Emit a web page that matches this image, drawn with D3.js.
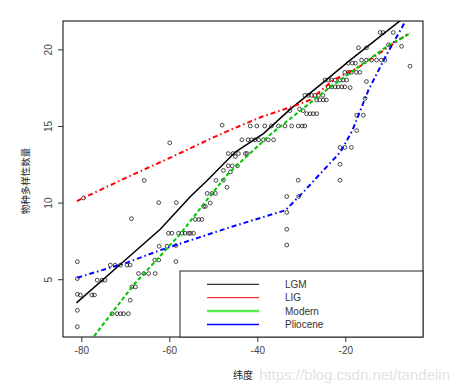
<!DOCTYPE html>
<html lang="zh">
<head>
<meta charset="utf-8">
<script src="https://cdn.jsdelivr.net/npm/d3@7/dist/d3.min.js"></script>
<style>
  body { margin: 0; background: #fff; }
  text { font-family: "Liberation Sans", Arial, sans-serif; }
</style>
</head>
<body>
<svg width="458" height="391"></svg>
<script>
// scatter points (latitude, species count)
var pointX = [
  -12.1,-11.4,-9.1, -17.0,-15.2,-10.2,-7.2, -5.3,
  -19.3,-18.4,-17.7, -16.3,-15.2,-14.0,-12.9,-11.8,-11.0,
  -20.1,-19.3,-18.6,-17.5,-16.7, -15.2,
  -24.6,-23.9,-23.1,-22.3,-21.2,-20.5,-19.7,
  -23.9,-23.1,-22.3,-21.6,-20.8,-20.1,-18.9,
  -29.2,-28.4,-27.7,-26.9,-26.1,-25.1,
  -26.5,-25.8,-25.0,-24.3, -15.5,
  -32.6,-30.4,-29.6, -28.8,-28.0,-27.3,-26.5, -17.4,-15.9,
  -41.6,-40.1,-38.3,-36.8,-35.2,-33.7,-32.2,-30.7,-29.8,-29.2,
  -48.0, -17.4,
  -43.5,-42.1,-41.3,-40.5,-39.7,-38.6,-37.5,-36.3,
  -46.6,-45.5,-44.3,-42.7,-42.3, -21.2,-20.1,-18.6,
  -46.6,-45.7,-44.5, -45.0, -21.2, -59.9, -47.7, -46.1,
  -30.7,-21.2, -49.4,-47.7, -65.7,
  -33.3,-30.6, -46.9, -51.4,-50.3,-49.5,
  -79.5, -62.4,-58.4, -52.2,-51.8,-50.7, -33.3, -68.6,
  -54.1,-53.3,-52.6,
  -60.2,-59.4,-57.9,-57.1,-56.4,-55.6,-55.2,-54.5,
  -33.3, -33.3, -62.3,-60.5,-58.5,
  -63.3,-62.4,-58.5, -80.9,
  -73.4,-72.3,-71.1,-69.6,-68.9,
  -67.0,-65.8,-64.7,-63.2, -80.9,
  -76.4,-75.3,-74.6, -68.5,-67.7,
  -80.9, -80.2,-77.6,-77.0, -68.9, -80.9,
  -73.0,-71.9,-71.1,-70.4,-69.3, -80.9
];
var pointY = [
  21.1,21.1,21.1, 20.1,20.1,20.3,20.2, 18.9,
  19.1,19.1,19.1, 19.3,19.3,19.3,19.3,19.3,19.3,
  18.5,18.5,18.5,18.5,18.5, 17.9,
  18.0,18.0,18.0,18.0,18.0,18.0,18.0,
  17.55,17.55,17.55,17.55,17.55,17.55,17.5,
  17.0,17.0,17.0,17.0,17.0,17.0,
  16.7,16.7,16.7,16.7, 16.8,
  16.0,16.1,16.0, 15.8,15.8,15.8,15.8, 15.7,15.7,
  15.0,15.0,15.0,15.0,15.0,15.0,15.0,15.0,15.0,15.0,
  15.05, 14.7,
  14.1,14.1,14.1,14.1,14.1,14.1,14.1,14.1,
  13.2,13.2,13.2,13.2,13.2, 13.6,13.6,13.6,
  12.4,12.4,12.4, 13.0, 12.5, 13.9, 12.1, 12.0,
  11.46,11.46, 11.45,11.46, 11.45,
  10.4,10.4, 11.0, 10.6,10.6,10.6,
  10.3, 10.0,10.0, 9.75,9.75,9.97, 9.36, 8.95,
  8.9,8.9,8.9,
  8.0,8.0,8.0,8.0,8.0,8.0,8.0,8.0,
  8.26, 7.23, 7.15,7.15,7.2,
  6.25,6.25,6.16, 6.14,
  5.92,5.92,5.92,5.92,5.92,
  5.37,5.37,5.37,5.37, 5.04,
  4.94,4.94,4.94, 4.5,4.5,
  4.02, 3.97,3.97,3.97, 3.63, 2.97,
  2.75,2.75,2.75,2.75,2.75, 1.9
];

// fitted curves
var lgmX = [-81.1,-71.1,-62.0,-55.2,-51.4,-45.0,-38.6,-32.5,-25.0,-18.9,-7.4,-5.0];
var lgmY = [3.46,5.98,8.28,10.4,11.44,13.3,14.5,16.1,17.85,19.3,21.9,22.4];
var ligX = [-81.0,-70.0,-60.0,-50.0,-46.5,-39.0,-32.2,-28.0,-22.7,-16.6,-5.3];
var ligY = [10.1,11.6,12.9,14.25,14.7,15.6,16.25,16.7,18.0,18.9,21.1];
var modernX = [-78.0,-68.2,-57.5,-51.1,-46.6,-36.8,-24.5,-10.2,-5.2];
var modernY = [0.95,4.6,7.95,10.3,11.9,14.5,17.3,20.26,21.05];
var plioX = [-80.9,-69.5,-62.0,-46.1,-33.6,-29.5,-25.0,-21.1,-18.4,-14.8,-10.9,-6.4,-5.5];
var plioY = [5.1,6.1,6.9,8.4,9.5,10.7,12.1,13.3,14.7,17.3,19.5,21.8,22.4];

var xTicks = [-80,-60,-40,-20];
var yTicks = [5,10,15,20];
var legendNames = ["LGM","LIG","Modern","Pliocene"];

var svg = d3.select("svg");
var plotLeft = 63, plotRight = 423, plotTop = 21, plotBottom = 337;

var x = d3.scaleLinear().domain([-84.16,-2.34]).range([plotLeft,plotRight]);
var y = d3.scaleLinear().domain([1.23,21.85]).range([plotBottom,plotTop]);

svg.append("clipPath").attr("id","plotclip")
  .append("rect").attr("x",plotLeft).attr("y",plotTop)
  .attr("width",plotRight-plotLeft).attr("height",plotBottom-plotTop);

// axes
var xAxis = svg.append("g")
  .attr("transform","translate(0,"+plotBottom+")")
  .call(d3.axisBottom(x).tickValues(xTicks).tickSize(5).tickPadding(5)
    .tickFormat(function(d){ return String(d); }));
xAxis.select(".domain").remove();
xAxis.selectAll("text").attr("font-size","10px").attr("fill","#444")
  .style("font-family","'Liberation Sans', Arial, sans-serif");
xAxis.selectAll("line").attr("stroke","#333");

var yAxis = svg.append("g")
  .attr("transform","translate("+plotLeft+",0)")
  .call(d3.axisLeft(y).tickValues(yTicks).tickSize(5)
    .tickFormat(function(d){ return String(d); }));
yAxis.select(".domain").remove();
yAxis.selectAll("line").attr("stroke","#333");
yAxis.selectAll("text")
  .attr("font-size","10px").attr("fill","#444")
  .style("font-family","'Liberation Sans', Arial, sans-serif")
  .attr("text-anchor","middle")
  .attr("x",0).attr("y",0).attr("dy",0)
  .attr("transform","translate(-11,0) rotate(-90)");

// points
svg.append("g").selectAll("circle")
  .data(pointX.map(function(d,i){ return [d,pointY[i]]; }))
  .enter().append("circle")
  .attr("cx",function(d){ return x(d[0]); })
  .attr("cy",function(d){ return y(d[1]); })
  .attr("r",1.9)
  .attr("fill","none")
  .attr("stroke","#000")
  .attr("stroke-width",0.7);

// curves
var line = d3.line().x(function(d){ return x(d[0]); }).y(function(d){ return y(d[1]); });
function zip(a,b){ return a.map(function(d,i){ return [d,b[i]]; }); }

var g = svg.append("g").attr("clip-path","url(#plotclip)");
g.append("path").attr("d",line(zip(lgmX,lgmY)))
  .attr("fill","none").attr("stroke","#000").attr("stroke-width",1.5);
g.append("path").attr("d",line(zip(ligX,ligY)))
  .attr("fill","none").attr("stroke","#ff0000").attr("stroke-width",2)
  .attr("stroke-dasharray","5,3,1.5,3");
g.append("path").attr("d",line(zip(modernX,modernY)))
  .attr("fill","none").attr("stroke","#00c400").attr("stroke-width",2)
  .attr("stroke-dasharray","4,2.5");
g.append("path").attr("d",line(zip(plioX,plioY)))
  .attr("fill","none").attr("stroke","#0000ff").attr("stroke-width",2)
  .attr("stroke-dasharray","5,3,1.5,3");

// box
svg.append("rect").attr("x",plotLeft).attr("y",plotTop)
  .attr("width",plotRight-plotLeft).attr("height",plotBottom-plotTop)
  .attr("fill","none").attr("stroke","#000").attr("stroke-width",1);

// legend
var legendColors = ["#000","#ff0000","#55ee55","#0000ff"];
var legendWidths = [1,1,2.5,1.3];
var leg = svg.append("g");
leg.append("rect").attr("x",180).attr("y",271).attr("width",plotRight-180).attr("height",plotBottom-271)
  .attr("fill","#fff").attr("stroke","#222").attr("stroke-width",1);
legendNames.forEach(function(n,i){
  var ly = 284.3 + i*13.4;
  leg.append("line").attr("x1",207).attr("x2",259).attr("y1",ly).attr("y2",ly)
    .attr("stroke",legendColors[i]).attr("stroke-width",legendWidths[i]);
  leg.append("text").attr("x",285).attr("y",ly+3.6).text(n)
    .attr("font-size","10px").attr("fill","#333");
});

// axis titles
svg.append("text").attr("x",243).attr("y",379).attr("text-anchor","middle")
  .attr("font-size","10px").attr("fill","#222")
  .style("font-family","'Noto Sans CJK SC', sans-serif").text("纬度");
svg.append("text").attr("transform","translate(29,181) rotate(-90)")
  .attr("text-anchor","middle").attr("font-size","9.5px").attr("fill","#222")
  .style("font-family","'Noto Sans CJK SC', sans-serif").text("物种多样性数量");

// watermark
svg.append("text").attr("x",450).attr("y",380).attr("text-anchor","end")
  .attr("font-size","15px").attr("fill","#dadada").attr("fill-opacity",0.8)
  .text("https://blog.csdn.net/tandelin");
</script>
</body>
</html>
